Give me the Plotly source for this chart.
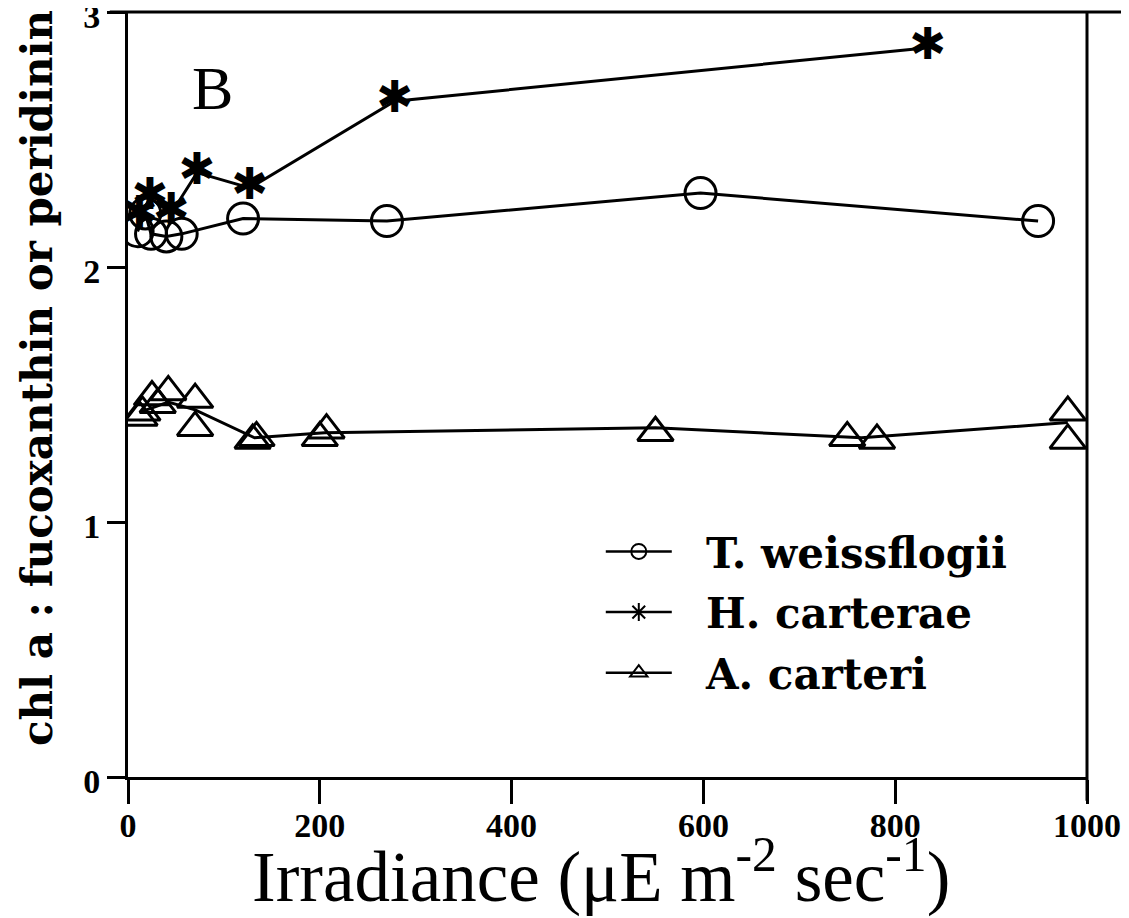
import plotly.graph_objects as go

# T. weissflogii (circles)
tw_x = [10, 18, 24, 40, 56, 120, 270, 597, 949]
tw_y = [2.14, 2.21, 2.13, 2.12, 2.13, 2.19, 2.18, 2.29, 2.18]

# H. carterae (stars)
hc_x = [12, 23, 45, 72, 127, 278, 834]
hc_y = [2.20, 2.27, 2.21, 2.37, 2.31, 2.65, 2.86]

# A. carteri (triangles): replicate points
ac_x = [12, 15, 25, 31, 42, 70, 70, 130, 134, 200, 207, 550, 750, 781, 980, 980]
ac_y = [1.41, 1.43, 1.49, 1.46, 1.51, 1.48, 1.37, 1.32, 1.33, 1.33, 1.36, 1.35, 1.33, 1.32, 1.43, 1.32]
# A. carteri line (means)
acl_x = [12, 42, 70, 132, 205, 550, 765, 980]
acl_y = [1.43, 1.47, 1.44, 1.33, 1.35, 1.37, 1.33, 1.39]

x_ticks = [0, 200, 400, 600, 800, 1000]
y_ticks = [0, 1, 2, 3]

names = ["T. weissflogii", "H. carterae", "A. carteri"]

fig = go.Figure()
LW = 3
fig.add_trace(go.Scatter(x=tw_x, y=tw_y, mode="lines+markers", showlegend=False,
                         line=dict(color="black", width=LW),
                         marker=dict(symbol="circle-open", size=31, color="black",
                                     line=dict(width=3, color="black"))))
fig.add_trace(go.Scatter(x=acl_x, y=acl_y, mode="lines", showlegend=False,
                         line=dict(color="black", width=LW)))
fig.add_trace(go.Scatter(x=ac_x, y=ac_y, mode="markers", showlegend=False,
                         marker=dict(symbol="triangle-up-open", size=31, color="black",
                                     line=dict(width=3, color="black"))))
fig.add_trace(go.Scatter(x=hc_x, y=hc_y, mode="lines", showlegend=False,
                         line=dict(color="black", width=LW)))
fig.add_trace(go.Scatter(x=hc_x, y=hc_y, mode="text", showlegend=False,
                         text=["✱"] * len(hc_x), textposition="middle center",
                         textfont=dict(family="DejaVu Sans", size=44, color="black")))

# legend entries
leg_sym = ["circle-open", "asterisk-open", "triangle-up-open"]
for n, s in zip(names, leg_sym):
    fig.add_trace(go.Scatter(x=[None], y=[None], mode="lines+markers",
                             name="\u00a0\u00a0" + n, legendgroup=n,
                             line=dict(color="black", width=2.5),
                             marker=dict(symbol=s, size=15, color="black",
                                         line=dict(width=2, color="black"))))

tickfont = dict(family="Liberation Serif", size=34, color="black", weight="bold")
fig.update_xaxes(range=[0, 1000], tickvals=x_ticks, ticks="outside", ticklen=24,
                 tickwidth=2.5, tickcolor="black", showline=True, linecolor="black",
                 linewidth=3, showgrid=False, zeroline=False, tickfont=tickfont,
                 automargin=False, ticklabeloverflow="allow", ticklabelstandoff=-8)
fig.update_yaxes(range=[0, 3], tickvals=y_ticks, ticks="outside", ticklen=18,
                 tickwidth=2.5, tickcolor="black", showline=True, linecolor="black",
                 linewidth=3, showgrid=False, zeroline=False, tickfont=tickfont,
                 automargin=False, ticklabeloverflow="allow", ticklabelshift=4)

fig.add_shape(type="line", xref="paper", yref="paper", x0=-0.019, x1=1.05, y0=1, y1=1,
              line=dict(color="black", width=3))
fig.add_shape(type="line", xref="paper", yref="paper", x0=1, x1=1, y0=-0.031, y1=1,
              line=dict(color="black", width=3))

fig.add_annotation(text="B", xref="paper", yref="paper", x=0.0876, y=0.9007,
                   xanchor="center", yanchor="middle",
                   showarrow=False, font=dict(family="Liberation Serif", size=62, color="black"))
fig.add_annotation(text="chl a : fucoxanthin or peridinin", xref="paper", yref="paper",
                   x=-0.0938, y=0.5216, textangle=-90, showarrow=False,
                   xanchor="center", yanchor="middle",
                   font=dict(family="DejaVu Serif", size=42, color="black", weight="bold"))
fig.add_annotation(text="Irradiance (μE m<sup>-2</sup> sec<sup>-1</sup>)", xref="paper", yref="paper",
                   x=0.493, y=-0.124, showarrow=False, xanchor="center", yanchor="middle",
                   font=dict(family="Liberation Serif", size=71, color="black"))

fig.update_layout(
    width=1129, height=918,
    margin=dict(l=120, r=50, t=4, b=149, autoexpand=False),
    plot_bgcolor="white", paper_bgcolor="white",
    legend=dict(x=0.493, y=0.339, xanchor="left", yanchor="top", bgcolor="rgba(0,0,0,0)",
                font=dict(family="DejaVu Serif", size=42, color="black", weight="bold"),
                itemwidth=66, tracegroupgap=3),
)

fig.write_html("out.html")
